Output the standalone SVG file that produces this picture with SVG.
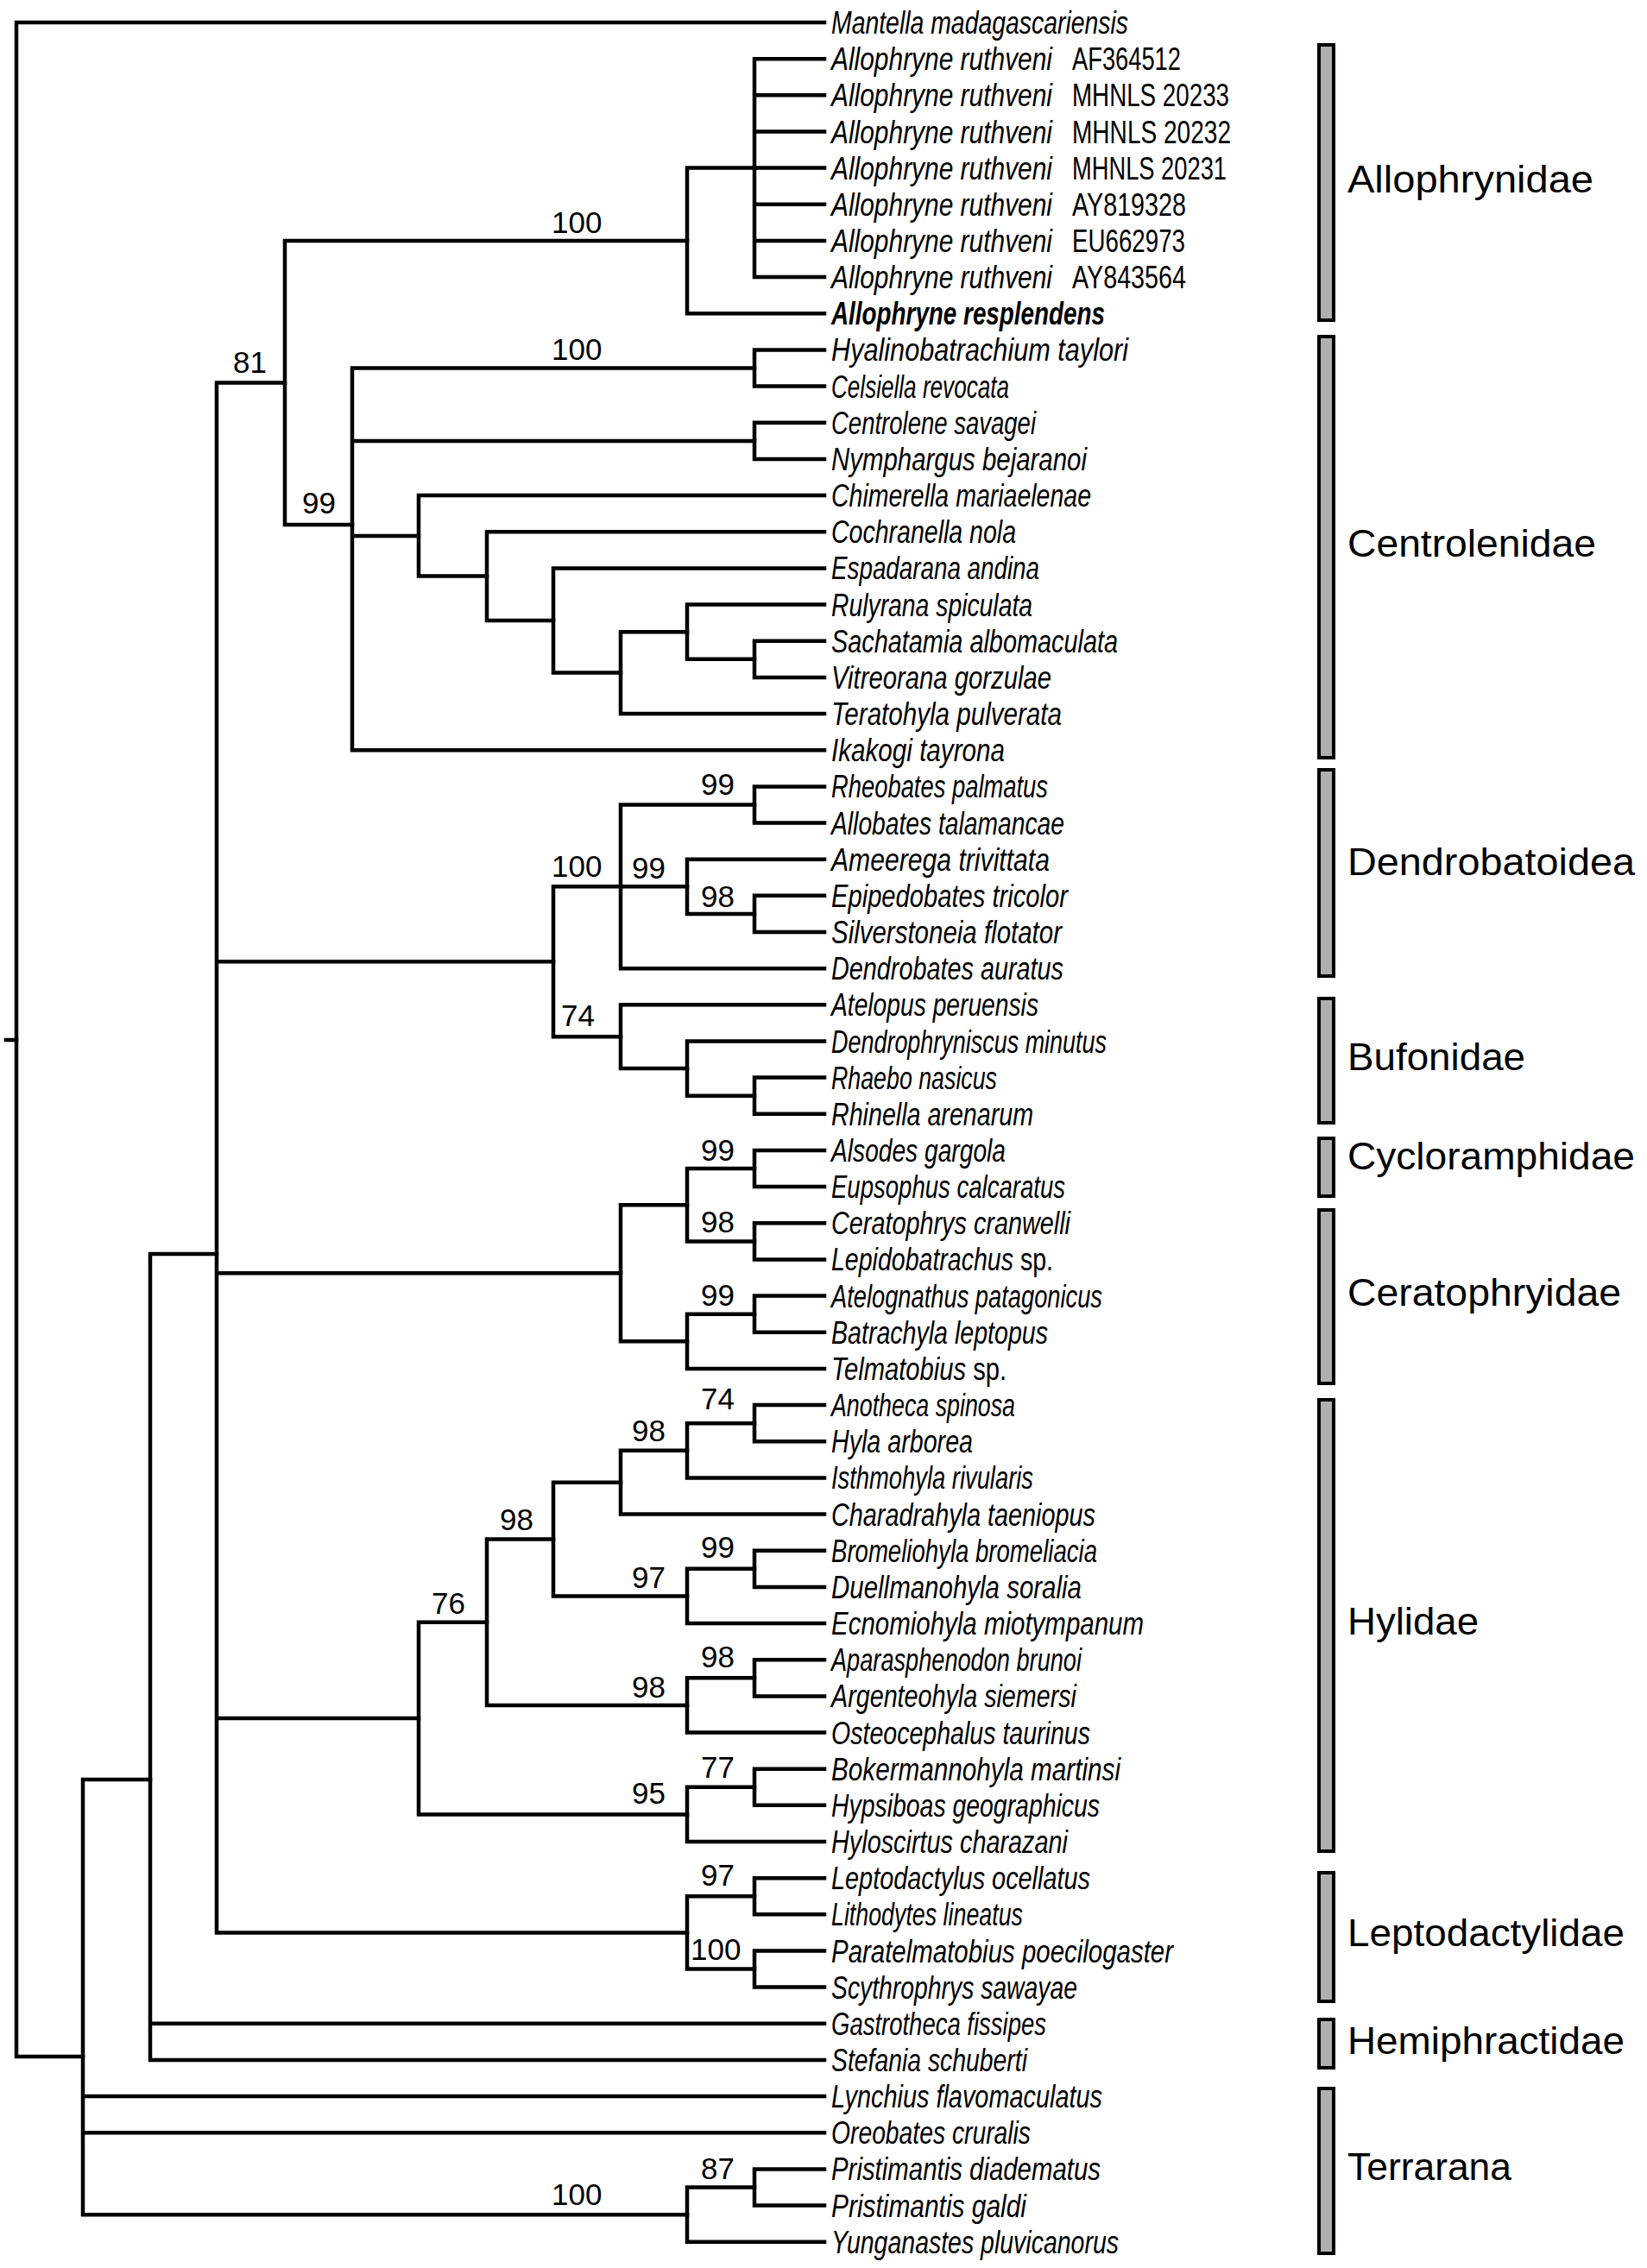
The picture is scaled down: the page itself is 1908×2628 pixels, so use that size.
<svg xmlns="http://www.w3.org/2000/svg" width="1908" height="2628" viewBox="0 0 1908 2628">
<style>
.e{fill:none;stroke:#000;stroke-width:4.5;stroke-linecap:square;stroke-linejoin:miter}
.t{font-family:"Liberation Sans",Arial,sans-serif;font-size:36px;font-style:italic;fill:#000}
.n{font-style:normal}
.bd{font-weight:bold}
.b{font-family:"Liberation Sans",Arial,sans-serif;font-size:35px;fill:#000}
.f{font-family:"Liberation Sans",Arial,sans-serif;font-size:44px;fill:#000}
.bar{fill:#b3aeae;stroke:#000;stroke-width:4}
</style>
<rect width="1908" height="2628" fill="#fff"/>
<g id="connectors">
<path class="e" d="M7 1205H19"/>
<path class="e" d="M955 26H19V2383H96"/>
<path class="e" d="M174 2062H96V2566.2H796M96 2429.1H955M96 2471.3H955"/>
<path class="e" d="M251 1453H174V2387H955M174 2344.8H955"/>
<path class="e" d="M330 443.5H251V2239.4H796M251 1114.3H641M251 1475.2H719M251 1991H485"/>
<path class="e" d="M796 279H330V608H408"/>
<path class="e" d="M874 194.6H796V363.3H955"/>
<path class="e" d="M955 68.2H874V321.1H955M874 110.3H955M874 152.5H955M874 194.6H955M874 236.8H955M874 279H955"/>
<path class="e" d="M874 426.5H408V869.2H955M408 510.9H874M408 620.9H485"/>
<path class="e" d="M955 405.4H874V447.6H955"/>
<path class="e" d="M955 489.8H874V531.9H955"/>
<path class="e" d="M955 574.1H485V667.6H564"/>
<path class="e" d="M955 616.2H564V719H641"/>
<path class="e" d="M955 658.4H641V779.6H719"/>
<path class="e" d="M796 732.2H719V827H955"/>
<path class="e" d="M955 700.6H796V763.8H874"/>
<path class="e" d="M955 742.7H874V784.9H955"/>
<path class="e" d="M719 1027.3H641V1201.2H719"/>
<path class="e" d="M874 932.5H719V1122.2H955M719 1027.3H796"/>
<path class="e" d="M955 911.4H874V953.5H955"/>
<path class="e" d="M955 995.7H796V1058.9H874"/>
<path class="e" d="M955 1037.8H874V1080H955"/>
<path class="e" d="M955 1164.3H719V1238.1H796"/>
<path class="e" d="M955 1206.5H796V1269.7H874"/>
<path class="e" d="M955 1248.6H874V1290.8H955"/>
<path class="e" d="M796 1396.2H719V1554.3H796"/>
<path class="e" d="M874 1354H796V1438.4H874"/>
<path class="e" d="M955 1333H874V1375.1H955"/>
<path class="e" d="M955 1417.3H874V1459.4H955"/>
<path class="e" d="M874 1522.7H796V1585.9H955"/>
<path class="e" d="M955 1501.6H874V1543.8H955"/>
<path class="e" d="M564 1879.7H485V2102.4H796"/>
<path class="e" d="M641 1783.5H564V1975.9H796"/>
<path class="e" d="M719 1717.7H641V1849.4H796"/>
<path class="e" d="M796 1680.8H719V1754.6H955"/>
<path class="e" d="M874 1649.2H796V1712.4H955"/>
<path class="e" d="M955 1628.1H874V1670.2H955"/>
<path class="e" d="M874 1817.8H796V1881H955"/>
<path class="e" d="M955 1796.7H874V1838.9H955"/>
<path class="e" d="M874 1944.3H796V2007.5H955"/>
<path class="e" d="M955 1923.2H874V1965.4H955"/>
<path class="e" d="M874 2070.8H796V2134H955"/>
<path class="e" d="M955 2049.7H874V2091.8H955"/>
<path class="e" d="M874 2197.2H796V2281.6H874"/>
<path class="e" d="M955 2176.2H874V2218.3H955"/>
<path class="e" d="M955 2260.5H874V2302.6H955"/>
<path class="e" d="M874 2534.5H796V2597.8H955"/>
<path class="e" d="M955 2513.4H874V2555.6H955"/>
</g>
<g id="support-values" class="b">
<text x="639" y="270">100</text>
<text x="639" y="417">100</text>
<text x="270" y="432">81</text>
<text x="350" y="595">99</text>
<text x="812" y="921">99</text>
<text x="639" y="1016">100</text>
<text x="732" y="1018">99</text>
<text x="812" y="1051">98</text>
<text x="650" y="1189">74</text>
<text x="812" y="1345">99</text>
<text x="812" y="1428">98</text>
<text x="812" y="1513">99</text>
<text x="812" y="1633">74</text>
<text x="732" y="1670">98</text>
<text x="579" y="1773">98</text>
<text x="812" y="1805">99</text>
<text x="732" y="1840">97</text>
<text x="500" y="1870">76</text>
<text x="812" y="1932">98</text>
<text x="732" y="1967">98</text>
<text x="812" y="2060">77</text>
<text x="732" y="2090">95</text>
<text x="812" y="2185">97</text>
<text x="800" y="2271">100</text>
<text x="812" y="2525">87</text>
<text x="639" y="2555">100</text>
</g>
<g id="taxa" class="t">
<g id="taxon-00"><text x="963" y="39" textLength="344" lengthAdjust="spacingAndGlyphs">Mantella madagascariensis</text></g>
<g id="taxon-01"><text x="963" y="81.2" textLength="256" lengthAdjust="spacingAndGlyphs">Allophryne ruthveni</text><text class="n" x="1242" y="81.2" textLength="126" lengthAdjust="spacingAndGlyphs">AF364512</text></g>
<g id="taxon-02"><text x="963" y="123.3" textLength="256" lengthAdjust="spacingAndGlyphs">Allophryne ruthveni</text><text class="n" x="1242" y="123.3" textLength="182" lengthAdjust="spacingAndGlyphs">MHNLS 20233</text></g>
<g id="taxon-03"><text x="963" y="165.5" textLength="256" lengthAdjust="spacingAndGlyphs">Allophryne ruthveni</text><text class="n" x="1242" y="165.5" textLength="184" lengthAdjust="spacingAndGlyphs">MHNLS 20232</text></g>
<g id="taxon-04"><text x="963" y="207.6" textLength="256" lengthAdjust="spacingAndGlyphs">Allophryne ruthveni</text><text class="n" x="1242" y="207.6" textLength="179" lengthAdjust="spacingAndGlyphs">MHNLS 20231</text></g>
<g id="taxon-05"><text x="963" y="249.8" textLength="256" lengthAdjust="spacingAndGlyphs">Allophryne ruthveni</text><text class="n" x="1242" y="249.8" textLength="132" lengthAdjust="spacingAndGlyphs">AY819328</text></g>
<g id="taxon-06"><text x="963" y="292" textLength="256" lengthAdjust="spacingAndGlyphs">Allophryne ruthveni</text><text class="n" x="1242" y="292" textLength="131" lengthAdjust="spacingAndGlyphs">EU662973</text></g>
<g id="taxon-07"><text x="963" y="334.1" textLength="256" lengthAdjust="spacingAndGlyphs">Allophryne ruthveni</text><text class="n" x="1242" y="334.1" textLength="132" lengthAdjust="spacingAndGlyphs">AY843564</text></g>
<g id="taxon-08"><text class="bd" x="963" y="376.3" textLength="317" lengthAdjust="spacingAndGlyphs">Allophryne resplendens</text></g>
<g id="taxon-09"><text x="963" y="418.4" textLength="344" lengthAdjust="spacingAndGlyphs">Hyalinobatrachium taylori</text></g>
<g id="taxon-10"><text x="963" y="460.6" textLength="206" lengthAdjust="spacingAndGlyphs">Celsiella revocata</text></g>
<g id="taxon-11"><text x="963" y="502.8" textLength="237" lengthAdjust="spacingAndGlyphs">Centrolene savagei</text></g>
<g id="taxon-12"><text x="963" y="544.9" textLength="296" lengthAdjust="spacingAndGlyphs">Nymphargus bejaranoi</text></g>
<g id="taxon-13"><text x="963" y="587.1" textLength="301" lengthAdjust="spacingAndGlyphs">Chimerella mariaelenae</text></g>
<g id="taxon-14"><text x="963" y="629.2" textLength="214" lengthAdjust="spacingAndGlyphs">Cochranella nola</text></g>
<g id="taxon-15"><text x="963" y="671.4" textLength="241" lengthAdjust="spacingAndGlyphs">Espadarana andina</text></g>
<g id="taxon-16"><text x="963" y="713.6" textLength="233" lengthAdjust="spacingAndGlyphs">Rulyrana spiculata</text></g>
<g id="taxon-17"><text x="963" y="755.7" textLength="332" lengthAdjust="spacingAndGlyphs">Sachatamia albomaculata</text></g>
<g id="taxon-18"><text x="963" y="797.9" textLength="255" lengthAdjust="spacingAndGlyphs">Vitreorana gorzulae</text></g>
<g id="taxon-19"><text x="963" y="840" textLength="267" lengthAdjust="spacingAndGlyphs">Teratohyla pulverata</text></g>
<g id="taxon-20"><text x="963" y="882.2" textLength="201" lengthAdjust="spacingAndGlyphs">Ikakogi tayrona</text></g>
<g id="taxon-21"><text x="963" y="924.4" textLength="251" lengthAdjust="spacingAndGlyphs">Rheobates palmatus</text></g>
<g id="taxon-22"><text x="963" y="966.5" textLength="270" lengthAdjust="spacingAndGlyphs">Allobates talamancae</text></g>
<g id="taxon-23"><text x="963" y="1008.7" textLength="253" lengthAdjust="spacingAndGlyphs">Ameerega trivittata</text></g>
<g id="taxon-24"><text x="963" y="1050.8" textLength="274" lengthAdjust="spacingAndGlyphs">Epipedobates tricolor</text></g>
<g id="taxon-25"><text x="963" y="1093" textLength="267" lengthAdjust="spacingAndGlyphs">Silverstoneia flotator</text></g>
<g id="taxon-26"><text x="963" y="1135.2" textLength="269" lengthAdjust="spacingAndGlyphs">Dendrobates auratus</text></g>
<g id="taxon-27"><text x="963" y="1177.3" textLength="240" lengthAdjust="spacingAndGlyphs">Atelopus peruensis</text></g>
<g id="taxon-28"><text x="963" y="1219.5" textLength="319" lengthAdjust="spacingAndGlyphs">Dendrophryniscus minutus</text></g>
<g id="taxon-29"><text x="963" y="1261.6" textLength="192" lengthAdjust="spacingAndGlyphs">Rhaebo nasicus</text></g>
<g id="taxon-30"><text x="963" y="1303.8" textLength="234" lengthAdjust="spacingAndGlyphs">Rhinella arenarum</text></g>
<g id="taxon-31"><text x="963" y="1346" textLength="202" lengthAdjust="spacingAndGlyphs">Alsodes gargola</text></g>
<g id="taxon-32"><text x="963" y="1388.1" textLength="271" lengthAdjust="spacingAndGlyphs">Eupsophus calcaratus</text></g>
<g id="taxon-33"><text x="963" y="1430.3" textLength="277" lengthAdjust="spacingAndGlyphs">Ceratophrys cranwelli</text></g>
<g id="taxon-34"><text x="963" y="1472.4" textLength="257" lengthAdjust="spacingAndGlyphs">Lepidobatrachus<tspan class="n"> sp.</tspan></text></g>
<g id="taxon-35"><text x="963" y="1514.6" textLength="314" lengthAdjust="spacingAndGlyphs">Atelognathus patagonicus</text></g>
<g id="taxon-36"><text x="963" y="1556.8" textLength="251" lengthAdjust="spacingAndGlyphs">Batrachyla leptopus</text></g>
<g id="taxon-37"><text x="963" y="1598.9" textLength="203" lengthAdjust="spacingAndGlyphs">Telmatobius<tspan class="n"> sp.</tspan></text></g>
<g id="taxon-38"><text x="963" y="1641.1" textLength="213" lengthAdjust="spacingAndGlyphs">Anotheca spinosa</text></g>
<g id="taxon-39"><text x="963" y="1683.2" textLength="164" lengthAdjust="spacingAndGlyphs">Hyla arborea</text></g>
<g id="taxon-40"><text x="963" y="1725.4" textLength="234" lengthAdjust="spacingAndGlyphs">Isthmohyla rivularis</text></g>
<g id="taxon-41"><text x="963" y="1767.6" textLength="306" lengthAdjust="spacingAndGlyphs">Charadrahyla taeniopus</text></g>
<g id="taxon-42"><text x="963" y="1809.7" textLength="308" lengthAdjust="spacingAndGlyphs">Bromeliohyla bromeliacia</text></g>
<g id="taxon-43"><text x="963" y="1851.9" textLength="290" lengthAdjust="spacingAndGlyphs">Duellmanohyla soralia</text></g>
<g id="taxon-44"><text x="963" y="1894" textLength="362" lengthAdjust="spacingAndGlyphs">Ecnomiohyla miotympanum</text></g>
<g id="taxon-45"><text x="963" y="1936.2" textLength="290" lengthAdjust="spacingAndGlyphs">Aparasphenodon brunoi</text></g>
<g id="taxon-46"><text x="963" y="1978.4" textLength="284" lengthAdjust="spacingAndGlyphs">Argenteohyla siemersi</text></g>
<g id="taxon-47"><text x="963" y="2020.5" textLength="300" lengthAdjust="spacingAndGlyphs">Osteocephalus taurinus</text></g>
<g id="taxon-48"><text x="963" y="2062.7" textLength="335" lengthAdjust="spacingAndGlyphs">Bokermannohyla martinsi</text></g>
<g id="taxon-49"><text x="963" y="2104.8" textLength="311" lengthAdjust="spacingAndGlyphs">Hypsiboas geographicus</text></g>
<g id="taxon-50"><text x="963" y="2147" textLength="274" lengthAdjust="spacingAndGlyphs">Hyloscirtus charazani</text></g>
<g id="taxon-51"><text x="963" y="2189.2" textLength="300" lengthAdjust="spacingAndGlyphs">Leptodactylus ocellatus</text></g>
<g id="taxon-52"><text x="963" y="2231.3" textLength="222" lengthAdjust="spacingAndGlyphs">Lithodytes lineatus</text></g>
<g id="taxon-53"><text x="963" y="2273.5" textLength="396" lengthAdjust="spacingAndGlyphs">Paratelmatobius poecilogaster</text></g>
<g id="taxon-54"><text x="963" y="2315.6" textLength="285" lengthAdjust="spacingAndGlyphs">Scythrophrys sawayae</text></g>
<g id="taxon-55"><text x="963" y="2357.8" textLength="249" lengthAdjust="spacingAndGlyphs">Gastrotheca fissipes</text></g>
<g id="taxon-56"><text x="963" y="2400" textLength="227" lengthAdjust="spacingAndGlyphs">Stefania schuberti</text></g>
<g id="taxon-57"><text x="963" y="2442.1" textLength="314" lengthAdjust="spacingAndGlyphs">Lynchius flavomaculatus</text></g>
<g id="taxon-58"><text x="963" y="2484.3" textLength="231" lengthAdjust="spacingAndGlyphs">Oreobates cruralis</text></g>
<g id="taxon-59"><text x="963" y="2526.4" textLength="312" lengthAdjust="spacingAndGlyphs">Pristimantis diadematus</text></g>
<g id="taxon-60"><text x="963" y="2568.6" textLength="226" lengthAdjust="spacingAndGlyphs">Pristimantis galdi</text></g>
<g id="taxon-61"><text x="963" y="2610.8" textLength="333" lengthAdjust="spacingAndGlyphs">Yunganastes pluvicanorus</text></g>
</g>
<g id="families">
<g id="fam-allophrynidae"><rect class="bar" x="1528" y="52" width="17" height="319"/><text class="f" x="1561" y="223" textLength="285" lengthAdjust="spacingAndGlyphs">Allophrynidae</text></g>
<g id="fam-centrolenidae"><rect class="bar" x="1528" y="390" width="17" height="488"/><text class="f" x="1561" y="645" textLength="288" lengthAdjust="spacingAndGlyphs">Centrolenidae</text></g>
<g id="fam-dendrobatoidea"><rect class="bar" x="1528" y="892" width="17" height="239"/><text class="f" x="1561" y="1014" textLength="333" lengthAdjust="spacingAndGlyphs">Dendrobatoidea</text></g>
<g id="fam-bufonidae"><rect class="bar" x="1528" y="1157" width="17" height="144"/><text class="f" x="1561" y="1240" textLength="206" lengthAdjust="spacingAndGlyphs">Bufonidae</text></g>
<g id="fam-cycloramphidae"><rect class="bar" x="1528" y="1319" width="17" height="67"/><text class="f" x="1561" y="1355" textLength="333" lengthAdjust="spacingAndGlyphs">Cycloramphidae</text></g>
<g id="fam-ceratophryidae"><rect class="bar" x="1528" y="1402" width="17" height="201"/><text class="f" x="1561" y="1513" textLength="317" lengthAdjust="spacingAndGlyphs">Ceratophryidae</text></g>
<g id="fam-hylidae"><rect class="bar" x="1528" y="1622" width="17" height="523"/><text class="f" x="1561" y="1894" textLength="152" lengthAdjust="spacingAndGlyphs">Hylidae</text></g>
<g id="fam-leptodactylidae"><rect class="bar" x="1528" y="2170" width="17" height="149"/><text class="f" x="1561" y="2255" textLength="321" lengthAdjust="spacingAndGlyphs">Leptodactylidae</text></g>
<g id="fam-hemiphractidae"><rect class="bar" x="1528" y="2340" width="17" height="56"/><text class="f" x="1561" y="2380" textLength="321" lengthAdjust="spacingAndGlyphs">Hemiphractidae</text></g>
<g id="fam-terrarana"><rect class="bar" x="1528" y="2420" width="17" height="191"/><text class="f" x="1561" y="2526" textLength="190" lengthAdjust="spacingAndGlyphs">Terrarana</text></g>
</g>
</svg>
